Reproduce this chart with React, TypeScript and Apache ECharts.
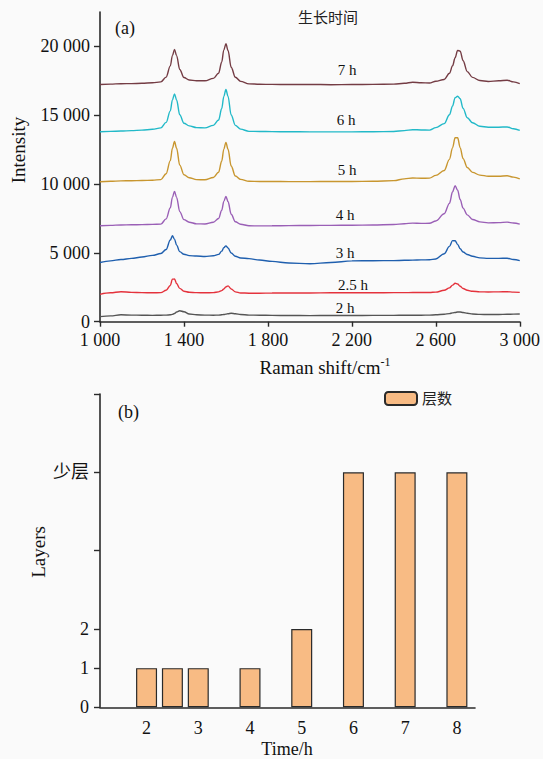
import React, { useEffect, useRef } from "react";
import * as echarts from "echarts";

// ---------- Data (a): Raman spectra ----------
const ramanShift = [1000, 1050, 1100, 1150, 1200, 1250, 1290, 1315, 1335, 1345, 1355, 1365, 1380, 1400, 1425, 1460, 1500, 1540, 1565, 1580, 1590, 1600, 1610, 1625, 1645, 1670, 1710, 1760, 1820, 1900, 2000, 2100, 2200, 2300, 2400, 2450, 2490, 2530, 2570, 2600, 2640, 2665, 2680, 2692, 2704, 2716, 2730, 2750, 2775, 2810, 2850, 2900, 2940, 2970, 3000];

const spectrum7h = [17230, 17260, 17290, 17300, 17320, 17360, 17420, 17770, 18585, 19330, 19780, 19330, 18325, 17740, 17560, 17500, 17500, 17680, 18050, 18870, 19750, 20190, 19700, 18490, 17760, 17460, 17280, 17250, 17240, 17230, 17240, 17220, 17230, 17240, 17260, 17320, 17400, 17360, 17340, 17470, 17600, 18045, 18590, 19180, 19710, 19660, 18960, 18170, 17750, 17520, 17450, 17500, 17545, 17420, 17300];
const spectrum6h = [13800, 13830, 13850, 13880, 13920, 13980, 14080, 14480, 15320, 16110, 16555, 16110, 15030, 14420, 14225, 14100, 14080, 14265, 14655, 15485, 16370, 16870, 16370, 15015, 14265, 13990, 13830, 13820, 13810, 13800, 13790, 13790, 13790, 13800, 13820, 13880, 13950, 13930, 13920, 14100, 14390, 15035, 15680, 16280, 16380, 16200, 15500, 14820, 14450, 14200, 14130, 14130, 14150, 14020, 13900];
const spectrum5h = [10170, 10200, 10230, 10240, 10260, 10280, 10320, 10750, 11700, 12600, 13100, 12600, 11375, 10680, 10460, 10320, 10310, 10480, 10860, 11675, 12540, 13030, 12530, 11310, 10580, 10340, 10200, 10190, 10190, 10180, 10180, 10190, 10190, 10200, 10250, 10380, 10440, 10420, 10430, 10630, 10985, 11790, 12650, 13360, 13360, 12650, 11850, 11200, 10850, 10650, 10570, 10570, 10600, 10500, 10370];
const spectrum4h = [6970, 7000, 7030, 7040, 7050, 7070, 7090, 7470, 8275, 9035, 9460, 9035, 8000, 7415, 7230, 7110, 7100, 7220, 7500, 8100, 8740, 9100, 8730, 7810, 7265, 7080, 6970, 6960, 6970, 6980, 6990, 7000, 7010, 7020, 7060, 7120, 7160, 7140, 7150, 7320, 7840, 8600, 9445, 9880, 9555, 8875, 8250, 7760, 7430, 7250, 7180, 7200, 7235, 7170, 7090];
const spectrum3h = [4300, 4420, 4520, 4600, 4700, 4820, 4950, 5250, 5935, 6240, 6000, 5565, 5090, 4900, 4800, 4770, 4740, 4790, 4890, 5125, 5380, 5510, 5350, 4995, 4750, 4630, 4580, 4480, 4380, 4260, 4210, 4300, 4420, 4430, 4440, 4460, 4470, 4490, 4500, 4560, 4935, 5470, 5890, 5880, 5620, 5300, 5060, 4880, 4750, 4640, 4600, 4600, 4615, 4520, 4440];
const spectrum25h = [1990, 2100, 2180, 2130, 2110, 2100, 2110, 2280, 2635, 3090, 3100, 2780, 2420, 2215, 2140, 2110, 2100, 2110, 2170, 2260, 2380, 2530, 2600, 2380, 2170, 2090, 2070, 2070, 2080, 2090, 2090, 2100, 2100, 2100, 2110, 2110, 2120, 2120, 2120, 2150, 2280, 2460, 2660, 2790, 2740, 2575, 2410, 2280, 2210, 2170, 2160, 2170, 2180, 2150, 2130];
const spectrum2h = [365, 420, 500, 480, 470, 460, 470, 480, 500, 530, 600, 700, 800, 720, 560, 500, 480, 470, 480, 500, 520, 550, 580, 610, 580, 520, 480, 470, 460, 450, 440, 450, 450, 460, 460, 470, 470, 470, 480, 500, 540, 590, 640, 670, 700, 700, 670, 610, 560, 530, 520, 520, 540, 550, 560];

const spectrumNames = ["2 h", "2.5 h", "3 h", "4 h", "5 h", "6 h", "7 h"];
const spectrumColors = ["#555555", "#e4323c", "#1f5fae", "#9a5fb6", "#c8962f", "#22b9c8", "#743c44"];
const intensityTicks = [0, 5000, 10000, 15000, 20000];
const ramanTicks = [1000, 1400, 1800, 2200, 2600, 3000];

// ---------- Data (b): layers vs growth time ----------
const growthTime = [2, 2.5, 3, 4, 5, 6, 7, 8];
const layerCount = [1, 1, 1, 1, 2, 6, 6, 6];
const timeTicks = [2, 3, 4, 5, 6, 7, 8];
const layerTicks = [0, 1, 2, 4, 6, 8];
const layerLabelValues = [0, 1, 2, 6];
const layerLabelNames: Record<number, string> = { 0: "0", 1: "1", 2: "2", 6: "少层" };

const FONT = "'Liberation Serif', 'Noto Sans CJK SC', serif";
const AXIS_COLOR = "#2a2a2a";

function fmtThousands(v: number): string {
  const s = String(Math.round(v));
  if (s.length <= 3) return s;
  return s.slice(0, s.length - 3) + " " + s.slice(s.length - 3);
}

export default function App() {
  const ref = useRef<HTMLDivElement>(null);
  useEffect(() => {
    if (!ref.current) return;
    const chart = echarts.init(ref.current, null, { renderer: "svg" });
    const spectra = [spectrum2h, spectrum25h, spectrum3h, spectrum4h, spectrum5h, spectrum6h, spectrum7h];
    const lineSeries = spectra.map((arr, k) => ({
      type: "line",
      name: spectrumNames[k],
      xAxisIndex: 0,
      yAxisIndex: 0,
      data: ramanShift.map((x, i) => [x, arr[i]]),
      showSymbol: false,
      symbol: "none",
      smooth: 0.35,
      smoothMonotone: "x",
      lineStyle: { color: spectrumColors[k], width: 1.4 },
      itemStyle: { color: spectrumColors[k] },
      z: 2,
    }));

    const labelPos: [string, number, number][] = [
      ["7 h", 347, 70],
      ["6 h", 346, 120],
      ["5 h", 347, 170],
      ["4 h", 345, 215],
      ["3 h", 345, 253],
      ["2.5 h", 353, 285],
      ["2 h", 345, 308],
    ];

    const axisCommon = {
      axisLine: { show: true, onZero: false, lineStyle: { color: AXIS_COLOR, width: 1.6 } },
      splitLine: { show: false },
    };

    const option: any = {
      animation: false,
      backgroundColor: "#fafafa",
      textStyle: { fontFamily: FONT },
      grid: [
        { left: 100, right: 23, top: 12, bottom: 437.3, containLabel: false },
        { left: 100, right: 68, top: 394, bottom: 51.7, containLabel: false },
      ],
      xAxis: [
        {
          ...axisCommon,
          gridIndex: 0,
          type: "value",
          min: 1000,
          max: 3000,
          axisTick: { show: true, inside: false, length: 5, customValues: ramanTicks, lineStyle: { color: AXIS_COLOR, width: 1.4 } },
          axisLabel: {
            customValues: ramanTicks,
            formatter: (v: number) => fmtThousands(v),
            fontSize: 18,
            lineHeight: 16,
            color: "#111",
            margin: 10,
            fontFamily: FONT,
          },
        },
        {
          ...axisCommon,
          gridIndex: 1,
          type: "value",
          min: 1.1,
          max: 8.35,
          axisTick: { show: false },
          axisLabel: {
            customValues: timeTicks,
            formatter: (v: number) => String(v),
            fontSize: 18,
            color: "#111",
            margin: 12,
            fontFamily: FONT,
          },
        },
      ],
      yAxis: [
        {
          ...axisCommon,
          gridIndex: 0,
          type: "value",
          min: 0,
          max: 22500,
          axisTick: { show: true, length: 6, customValues: intensityTicks, lineStyle: { color: AXIS_COLOR, width: 1.4 } },
          axisLabel: {
            customValues: intensityTicks,
            formatter: (v: number) => fmtThousands(v),
            fontSize: 18,
            lineHeight: 14,
            color: "#111",
            margin: 10,
            fontFamily: FONT,
          },
        },
        {
          ...axisCommon,
          gridIndex: 1,
          type: "value",
          min: 0,
          max: 8,
          axisTick: { show: true, length: 6, customValues: layerTicks, lineStyle: { color: AXIS_COLOR, width: 1.4 } },
          axisLabel: {
            customValues: layerLabelValues,
            formatter: (v: number) => layerLabelNames[v] ?? "",
            fontSize: 18,
            color: "#111",
            margin: 11,
            fontFamily: FONT,
          },
        },
      ],
      legend: {
        show: true,
        data: ["层数"],
        left: 384,
        top: 391,
        padding: 0,
        itemWidth: 32,
        itemHeight: 13,
        itemGap: 6,
        textStyle: { fontSize: 15, color: "#222", fontFamily: FONT },
      },
      series: [
        ...lineSeries,
        {
          type: "bar",
          name: "层数",
          xAxisIndex: 1,
          yAxisIndex: 1,
          data: growthTime.map((t, i) => [t, layerCount[i]]),
          barWidth: 21,
          itemStyle: { color: "#f8bb84", borderColor: "#2a2a2a", borderWidth: 1.2 },
          z: 2,
        },
      ],
      graphic: [
        { type: "text", left: 115, top: 19, style: { text: "(a)", font: `18px ${FONT}`, fill: "#111" } },
        { type: "text", left: 118, top: 403, style: { text: "(b)", font: `18px ${FONT}`, fill: "#111" } },
        { type: "text", x: 328, y: 18, style: { text: "生长时间", font: `15px ${FONT}`, fill: "#222", textAlign: "center", textVerticalAlign: "middle" } },
        ...labelPos.map(([t, x, y]) => ({
          type: "text",
          x,
          y,
          style: { text: t, font: `15px ${FONT}`, fill: "#111", textAlign: "center", textVerticalAlign: "middle" },
        })),
        {
          type: "text",
          x: 18,
          y: 150,
          rotation: Math.PI / 2,
          style: { text: "Intensity", font: `19px ${FONT}`, fill: "#111", textAlign: "center", textVerticalAlign: "middle" },
        },
        {
          type: "text",
          x: 38,
          y: 552,
          rotation: Math.PI / 2,
          style: { text: "Layers", font: `19px ${FONT}`, fill: "#111", textAlign: "center", textVerticalAlign: "middle" },
        },
        {
          type: "text",
          x: 325,
          y: 367,
          style: {
            text: "Raman shift/cm{sup|-1}",
            font: `19px ${FONT}`,
            fill: "#111",
            textAlign: "center",
            textVerticalAlign: "middle",
            rich: {
              sup: { fontSize: 12, fontFamily: FONT, fill: "#111", verticalAlign: "top", padding: [0, 0, 10, 0] },
            },
          },
        },
        {
          type: "text",
          x: 287,
          y: 749,
          style: { text: "Time/h", font: `18px ${FONT}`, fill: "#111", textAlign: "center", textVerticalAlign: "middle" },
        },
      ],
    };
    chart.setOption(option);
    return () => chart.dispose();
  }, []);

  return (
    <div
      ref={ref}
      style={{ position: "absolute", left: 0, top: 0, width: 543, height: 759, background: "#fafafa" }}
    />
  );
}
